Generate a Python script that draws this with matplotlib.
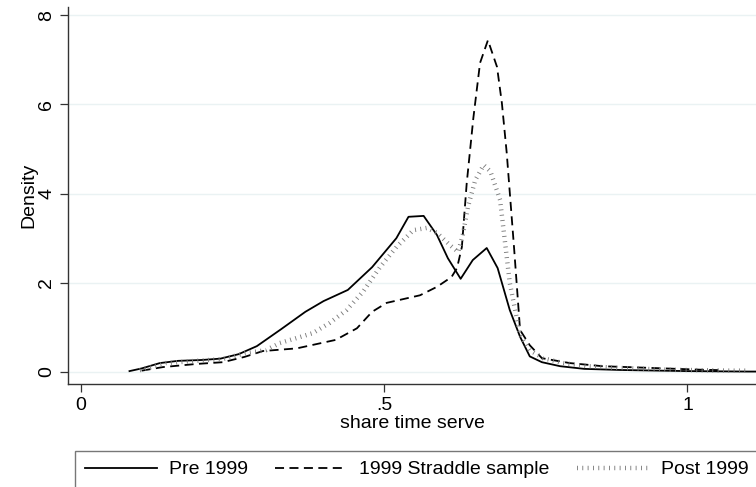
import matplotlib.pyplot as plt

# kernel density estimates of share of time served
pre_x = [0.08, 0.10, 0.13, 0.16, 0.20, 0.23, 0.26, 0.29, 0.33, 0.37, 0.40, 0.44,
         0.48, 0.52, 0.54, 0.565, 0.587, 0.605, 0.626, 0.646, 0.669, 0.687, 0.707,
         0.724, 0.74, 0.76, 0.79, 0.83, 0.89, 1.0, 1.1, 1.13]
pre_y = [0.02, 0.08, 0.2, 0.25, 0.27, 0.3, 0.4, 0.58, 0.96, 1.35, 1.59, 1.84,
         2.35, 3.0, 3.48, 3.5, 3.07, 2.55, 2.09, 2.51, 2.78, 2.33, 1.39,
         0.79, 0.35, 0.22, 0.13, 0.07, 0.045, 0.02, 0.01, 0.01]

straddle_x = [0.10, 0.135, 0.19, 0.234, 0.27, 0.30, 0.356, 0.42, 0.455, 0.48, 0.504,
              0.559, 0.587, 0.611, 0.62, 0.628, 0.636, 0.647, 0.658, 0.671, 0.686,
              0.694, 0.702, 0.714, 0.724, 0.74, 0.76, 0.806, 0.86, 0.943, 1.025, 1.06]
straddle_y = [0.03, 0.11, 0.18, 0.22, 0.34, 0.47, 0.53, 0.72, 0.98, 1.35, 1.55,
              1.72, 1.91, 2.13, 2.33, 2.8, 4.23, 5.7, 6.93, 7.44, 6.84,
              6.03, 4.91, 2.8, 0.94, 0.6, 0.31, 0.2, 0.13, 0.09, 0.05, 0.04]

post_x = [0.097, 0.14, 0.19, 0.234, 0.27, 0.305, 0.328, 0.382, 0.41, 0.438, 0.465,
          0.493, 0.52, 0.548, 0.57, 0.587, 0.608, 0.622, 0.63, 0.638, 0.65, 0.664,
          0.675, 0.691, 0.707, 0.724, 0.74, 0.762, 0.795, 0.834, 0.889, 0.971,
          1.075, 1.1]
post_y = [0.04, 0.2, 0.25, 0.29, 0.42, 0.49, 0.65, 0.87, 1.1, 1.39, 1.8,
          2.35, 2.8, 3.18, 3.23, 3.12, 2.85, 2.69, 3.1, 3.7, 4.3, 4.64,
          4.5, 3.86, 2.0, 0.83, 0.49, 0.31, 0.2, 0.13, 0.09, 0.05,
          0.03, 0.03]

labels = ["Pre 1999", "1999 Straddle sample", "Post 1999"]
xticks = [0, 0.5, 1]
xtick_labels = ["0", ".5", "1"]
yticks = [0, 2, 4, 6, 8]

plt.rcParams['font.family'] = ['Liberation Sans', 'DejaVu Sans']
plt.rcParams['font.size'] = 14

fig = plt.figure(figsize=(7.56, 4.87), dpi=100)
ax = fig.add_axes([68 / 756, 1 - 384 / 487, 1 - 68 / 756, (384 - 7) / 487])

ax.plot(pre_x, pre_y, color='black', lw=1.3, label=labels[0])
ax.plot(straddle_x, straddle_y, color='black', lw=1.3, dashes=(5, 3), label=labels[1])
# thick gray line with very short dashes -> small bars across the curve
ax.plot(post_x, post_y, color='#7a7a7a', lw=3.2, dashes=(0.2, 1.0),
        dash_capstyle='butt', label=labels[2])

ax.set_xlim(-0.0214, 1.113)
ax.set_ylim(-0.269, 8.184)
ax.set_xticks(xticks)
ax.set_xticklabels(xtick_labels)
ax.set_yticks(yticks)
ax.set_yticklabels([str(t) for t in yticks], rotation=90, va='center')
ax.tick_params(length=6, width=0.9, color='#333333', pad=3)
ax.grid(axis='y', color='#eaf2f3', lw=1.0)
ax.set_axisbelow(True)

for side in ['top', 'right']:
    ax.spines[side].set_visible(False)
for side in ['left', 'bottom']:
    ax.spines[side].set_color('#333333')
    ax.spines[side].set_linewidth(1.0)

ax.set_xlabel("share time serve", labelpad=1)
ax.set_ylabel("Density", labelpad=1)

leg = fig.legend(loc='upper left', bbox_to_anchor=(75 / 756, 1 - 451 / 487), ncol=3,
                 frameon=True, fancybox=False, handlelength=3.7, handletextpad=0.62,
                 columnspacing=1.4, borderpad=0.5, borderaxespad=0)
leg.get_frame().set_edgecolor('#555555')
leg.get_frame().set_linewidth(1.0)

fig.savefig("out.png", dpi=100)
